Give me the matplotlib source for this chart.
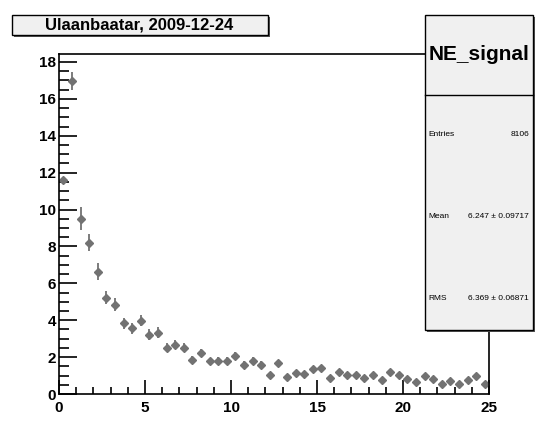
import numpy as np
import matplotlib
matplotlib.use("Agg")
import matplotlib.pyplot as plt
from matplotlib.patches import Rectangle
from matplotlib.ticker import MultipleLocator

# bin centres (50 bins of 0.5 between 0 and 25)
bin_centers = [0.25, 0.75, 1.25, 1.75, 2.25, 2.75, 3.25, 3.75, 4.25, 4.75,
               5.25, 5.75, 6.25, 6.75, 7.25, 7.75, 8.25, 8.75, 9.25, 9.75,
               10.25, 10.75, 11.25, 11.75, 12.25, 12.75, 13.25, 13.75, 14.25, 14.75,
               15.25, 15.75, 16.25, 16.75, 17.25, 17.75, 18.25, 18.75, 19.25, 19.75,
               20.25, 20.75, 21.25, 21.75, 22.25, 22.75, 23.25, 23.75, 24.25, 24.75]
counts = [11.62, 16.96, 9.5, 8.2, 6.63, 5.23, 4.83, 3.84, 3.57, 3.96,
          3.21, 3.33, 2.52, 2.67, 2.52, 1.86, 2.22, 1.77, 1.8, 1.8,
          2.07, 1.59, 1.8, 1.59, 1.03, 1.68, 0.9, 1.14, 1.08, 1.35,
          1.42, 0.86, 1.21, 1.01, 1.01, 0.86, 1.01, 0.76, 1.17, 1.01,
          0.81, 0.63, 0.95, 0.81, 0.56, 0.68, 0.56, 0.76, 0.95, 0.54]
errors = [0.08, 0.5, 0.63, 0.45, 0.45, 0.35, 0.35, 0.3, 0.3, 0.3,
          0.3, 0.28, 0.25, 0.25, 0.25, 0.2, 0.2, 0.2, 0.2, 0.2,
          0.2, 0.18, 0.18, 0.18, 0.15, 0.18, 0.15, 0.15, 0.15, 0.15,
          0.15, 0.15, 0.15, 0.15, 0.15, 0.15, 0.15, 0.12, 0.15, 0.15,
          0.12, 0.12, 0.12, 0.12, 0.12, 0.12, 0.12, 0.12, 0.12, 0.12]

title = "Ulaanbaatar, 2009-12-24"
hist_name = "NE_signal"
entries = "8106"
mean_txt = "6.247 \u00b1 0.09717"
rms_txt = "6.369 \u00b1 0.06871"

W, H = 541, 432
plt.rcParams['font.family'] = ['Liberation Sans', 'DejaVu Sans']
fig = plt.figure(figsize=(W / 100, H / 100), dpi=100)


def fx(px):
    return px / W


def fy(py):
    return 1 - py / H


ax = fig.add_axes([fx(59), fy(394), fx(489) - fx(59), fy(54) - fy(394)])
ax.errorbar(bin_centers, counts, yerr=errors, fmt='D', color='#727272',
            ms=3.9, elinewidth=1.3, capsize=0, mec='#727272')
ax.set_xlim(0, 25)
ax.set_ylim(0, 18.43)

ax.xaxis.set_major_locator(MultipleLocator(5))
ax.xaxis.set_minor_locator(MultipleLocator(1))
ax.yaxis.set_major_locator(MultipleLocator(2))
ax.yaxis.set_minor_locator(MultipleLocator(0.5))
ax.tick_params(which='both', direction='in', top=False, right=False, width=1.2)
ax.tick_params(axis='x', which='major', length=10, pad=5)
ax.tick_params(axis='x', which='minor', length=5)
ax.tick_params(axis='y', which='major', length=13, pad=2)
ax.tick_params(axis='y', which='minor', length=7)
for lab in ax.get_xticklabels() + ax.get_yticklabels():
    lab.set_fontweight('bold')
    lab.set_fontsize(11)
for s in ax.spines.values():
    s.set_linewidth(1.2)

# title box
fig.patches.append(Rectangle((fx(14), fy(37)), fx(256), fy(15) - fy(35),
                             transform=fig.transFigure, fc='#555555', ec='none', zorder=5))
fig.patches.append(Rectangle((fx(12), fy(35)), fx(256), fy(15) - fy(35),
                             transform=fig.transFigure, fc='#f0f0f0', ec='black', lw=1, zorder=6))
fig.text(fx(139), fy(25), title, ha='center', va='center', fontsize=12,
         fontweight='bold', zorder=7)

# stats box
fig.patches.append(Rectangle((fx(427), fy(332)), fx(108), fy(15) - fy(330),
                             transform=fig.transFigure, fc='#555555', ec='none', zorder=5))
fig.patches.append(Rectangle((fx(425), fy(330)), fx(108), fy(15) - fy(330),
                             transform=fig.transFigure, fc='#f0f0f0', ec='black', lw=1, zorder=6))
fig.add_artist(plt.Line2D([fx(425), fx(533)], [fy(95), fy(95)], color='black', lw=1,
                          transform=fig.transFigure, zorder=7))
fig.text(fx(479), fy(55), hist_name, ha='center', va='center', fontsize=15,
         fontweight='bold', zorder=7)
fig.text(fx(428), fy(135), "Entries", ha='left', va='center', fontsize=6, zorder=7)
fig.text(fx(529), fy(135), entries, ha='right', va='center', fontsize=6, zorder=7)
fig.text(fx(428), fy(217), "Mean", ha='left', va='center', fontsize=6, zorder=7)
fig.text(fx(529), fy(217), mean_txt, ha='right', va='center', fontsize=6, zorder=7)
fig.text(fx(428), fy(298), "RMS", ha='left', va='center', fontsize=6, zorder=7)
fig.text(fx(529), fy(298), rms_txt, ha='right', va='center', fontsize=6, zorder=7)

fig.savefig("out.png", dpi=100)
